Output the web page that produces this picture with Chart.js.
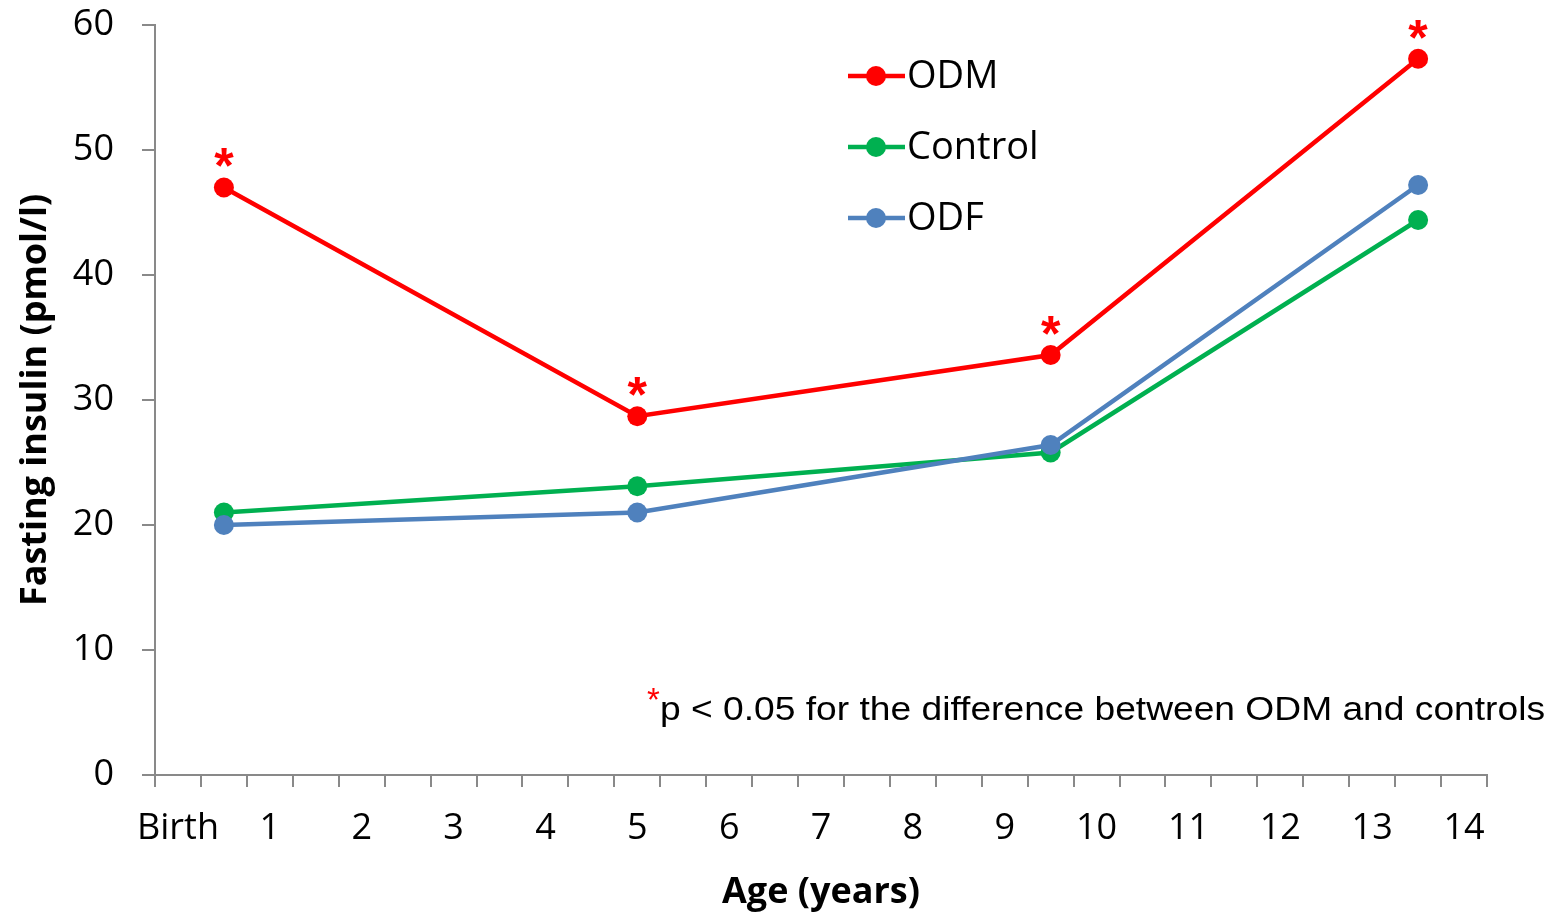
<!DOCTYPE html>
<html>
<head>
<meta charset="utf-8">
<script src="https://cdn.jsdelivr.net/npm/chart.js@4.4.1/dist/chart.umd.min.js"></script>
<style>
  html, body { margin: 0; padding: 0; background: #fff; }
  #wrap { width: 1555px; height: 914px; }
</style>
</head>
<body>
<div id="wrap"><canvas id="chart" width="1555" height="914"></canvas></div>
<script>
// ---- data ----
const ages = [0.5, 5, 9.5, 13.5];
const odmValues = [47.0, 28.7, 33.6, 57.3];
const controlValues = [21.0, 23.1, 25.8, 44.4];
const odfValues = [20.0, 21.0, 26.4, 47.2];
const significant = [true, true, true, true];   // ODM vs controls, p < 0.05
const ageLabels = ['Birth', '1', '2', '3', '4', '5', '6', '7', '8', '9', '10', '11', '12', '13', '14'];
const yTicks = [0, 10, 20, 30, 40, 50, 60];
const seriesNames = ['ODM', 'Control', 'ODF'];
const footnote = 'p < 0.05 for the difference between ODM and controls';

const FONT = "'Open Sans', sans-serif";
const COLORS = { odm: '#ff0000', control: '#00b050', odf: '#4f81bd', axis: '#898989' };

const pts = vals => ages.map((a, i) => ({ x: a, y: vals[i] }));

function series(label, vals, color, order) {
  return {
    label, data: pts(vals), order,
    borderColor: color, backgroundColor: color,
    pointBorderColor: color, pointBackgroundColor: color,
    borderWidth: 4.5, pointRadius: 10, pointBorderWidth: 0, tension: 0
  };
}

// extra drawing: legend, significance stars, footnote
const extras = {
  id: 'extras',
  afterDatasetsDraw(chart) {
    const ctx = chart.ctx;
    ctx.save();

    // significance stars above ODM points
    const meta = chart.getDatasetMeta(0);
    ctx.fillStyle = COLORS.odm;
    ctx.font = `bold 50px 'Liberation Sans', sans-serif`;
    ctx.textAlign = 'center';
    ctx.textBaseline = 'middle';
    meta.data.forEach((p, i) => {
      if (significant[i]) ctx.fillText('*', p.x, p.y - 18);
    });

    // legend
    const lx = 848, ly = 76, gap = 71;
    chart.data.datasets.forEach((ds, i) => {
      const y = ly + i * gap;
      ctx.strokeStyle = ds.borderColor;
      ctx.lineWidth = 4.5;
      ctx.beginPath(); ctx.moveTo(lx, y); ctx.lineTo(lx + 57, y); ctx.stroke();
      ctx.fillStyle = ds.borderColor;
      ctx.beginPath(); ctx.arc(lx + 28, y, 10, 0, Math.PI * 2); ctx.fill();
      ctx.fillStyle = '#000';
      ctx.font = `38px ${FONT}`;
      ctx.textAlign = 'left';
      ctx.fillText(ds.label, lx + 59, y + 1);
    });

    // footnote (narrow Arial-like text)
    ctx.font = `33px 'Liberation Sans', sans-serif`;
    const w = ctx.measureText(footnote).width;
    const sx = 885 / w;
    ctx.fillStyle = COLORS.odm;
    ctx.textAlign = 'left';
    ctx.fillText('*', 647, 702);
    ctx.save();
    ctx.translate(660, 711);
    ctx.scale(sx, 1);
    ctx.fillStyle = '#000';
    ctx.fillText(footnote, 0, 0);
    ctx.restore();

    ctx.restore();
  }
};

new Chart(document.getElementById('chart'), {
  type: 'line',
  data: {
    datasets: [
      series(seriesNames[0], odmValues, COLORS.odm, 0),
      series(seriesNames[1], controlValues, COLORS.control, 2),
      series(seriesNames[2], odfValues, COLORS.odf, 1)
    ]
  },
  options: {
    responsive: false,
    animation: false,
    layout: { padding: { top: 25, right: 68, left: 0, bottom: 0 } },
    plugins: { legend: { display: false }, tooltip: { enabled: false } },
    scales: {
      x: {
        type: 'linear',
        min: -0.25,
        max: ageLabels.length - 0.75,
        afterBuildTicks(scale) {
          // tick marks on the half-year boundaries, labels shifted to the centres
          const t = [];
          for (let k = 0; k < ageLabels.length * 2; k++) t.push({ value: -0.25 + 0.5 * k });
          scale.ticks = t;
        },
        afterFit(scale) {
          scale.height = 139;
          scale.paddingLeft = 0; scale.paddingRight = 0;
        },
        grid: { drawOnChartArea: false, drawTicks: true, tickLength: 12, color: COLORS.axis, lineWidth: 2 },
        border: { color: COLORS.axis, width: 2 },
        ticks: {
          autoSkip: false, maxRotation: 0, padding: 20, labelOffset: 23,
          color: '#000', font: { family: FONT, size: 36 },
          callback(v) {
            const k = Math.round((v + 0.25) * 2);
            return k % 2 === 0 ? ageLabels[k / 2] : '';
          }
        },
        title: {
          display: true, text: 'Age (years)', color: '#000',
          font: { family: FONT, size: 36, weight: 'bold' },
          padding: { top: 0, bottom: 0 }
        }
      },
      y: {
        min: 0, max: 60,
        afterBuildTicks(scale) { scale.ticks = yTicks.map(v => ({ value: v })); },
        afterFit(scale) {
          scale.width = 155;
          scale.paddingTop = 0; scale.paddingBottom = 0;
        },
        grid: { drawOnChartArea: false, drawTicks: true, tickLength: 13, color: COLORS.axis, lineWidth: 2 },
        border: { color: COLORS.axis, width: 2 },
        ticks: { padding: 28, color: '#000', font: { family: FONT, size: 36 } },
        title: {
          display: true, text: 'Fasting insulin (pmol/l)', color: '#000',
          font: { family: FONT, size: 36, weight: 'bold' },
          padding: { top: 14, bottom: 0 }
        }
      }
    }
  },
  plugins: [extras]
});
</script>
</body>
</html>
